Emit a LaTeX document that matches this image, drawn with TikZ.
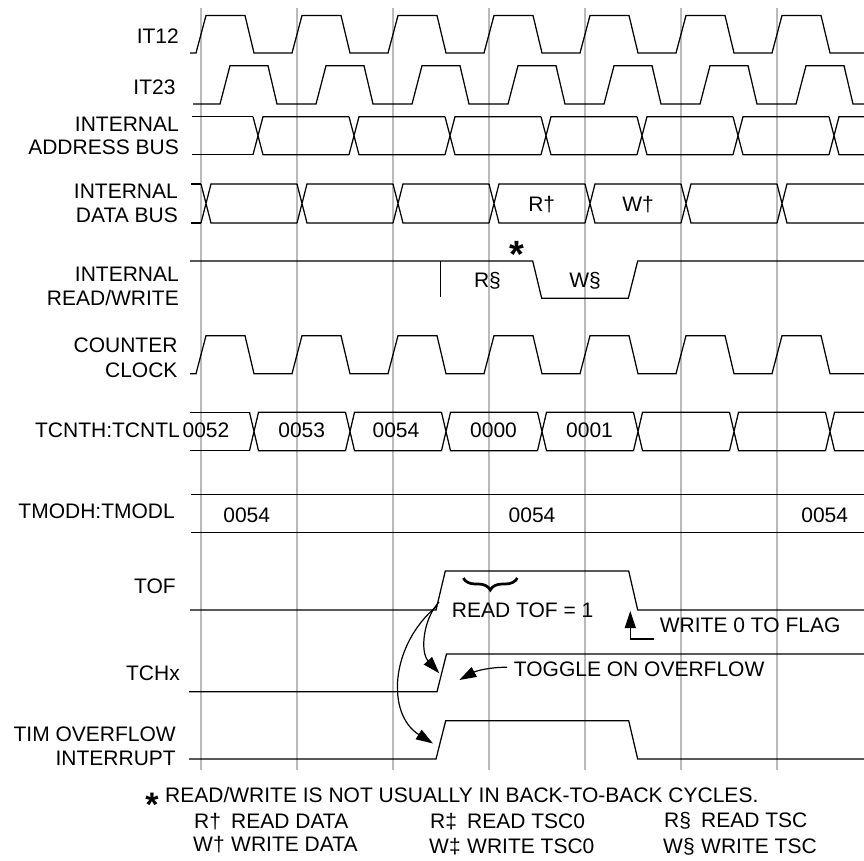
\documentclass[tikz,border=0pt]{standalone}
\usepackage{fontspec}
\setmainfont{Liberation Sans}
\usetikzlibrary{arrows.meta,decorations.pathreplacing}
% clock: #1 low y, #2 high y, #3 start x, #4 first rise start x, #5 fall start offset, #6 fall end offset, #7 end x
\newcommand{\tclk}[7]{%
  \draw[sig] (#3,#1) \foreach \k in {0,...,6}{ -- ({#4+96*\k},#1) -- ({#4+10+96*\k},#2) -- ({#4+#5+96*\k},#2) -- ({#4+#6+96*\k},#1)} -- (#7,#1);
}
% bus: #1 top y, #2 bottom y, #3 start x, #4 first crossing centre, #5 last index, #6 half width, #7 end x
\newcommand{\tbus}[7]{%
  \draw[sig] (#3,#1) -- ({#4-#6},#1) (#3,#2) -- ({#4-#6},#2);
  \foreach \k in {0,...,#5}{
    \pgfmathsetmacro\cc{#4+96*\k}
    \pgfmathsetmacro\ce{min(\cc+96-#6,#7)}
    \draw[sig] ({\cc-#6},#1) -- ({\cc+#6},#2) -- (\ce,#2) ({\cc-#6},#2) -- ({\cc+#6},#1) -- (\ce,#1);
  }
}
\begin{document}
\begin{tikzpicture}[x=1pt,y=-1pt,
  sig/.style={line width=1.25pt, line join=miter},
  gridline/.style={line width=1.6pt, draw=black!27},
  lbl/.style={inner sep=0pt, text height=15pt, text depth=0pt, font=\fontsize{21}{25}\selectfont},
  star/.style={inner sep=0pt, font=\fontsize{38}{38}\selectfont\bfseries},
  arr/.style={line width=1.2pt, -{Triangle[length=17pt,width=11pt]}},
]
\useasboundingbox (0,0) rectangle (864,861);
% grid
\foreach \k in {0,...,6}{ \draw[gridline] ({201+96*\k},8) -- ({201+96*\k},770); }

% left labels
\node[lbl, anchor=east] (lit12) at (179,36) {IT12};
\node[lbl, anchor=east] (lit23) at (175.7,86.6) {IT23};
\node[lbl, anchor=east] (lab1) at (179,124.2) {INTERNAL};
\node[lbl, anchor=east] (lab2) at (179,146.8) {ADDRESS BUS};
\node[lbl, anchor=east] (ldb1) at (178,191.5) {INTERNAL};
\node[lbl, anchor=east] (ldb2) at (178,215) {DATA BUS};
\node[lbl, anchor=east] (lrw1) at (179,274.2) {INTERNAL};
\node[lbl, anchor=east] (lrw2) at (179,297.5) {READ/WRITE};
\node[lbl, anchor=east] (lcc1) at (177.7,345.2) {COUNTER};
\node[lbl, anchor=east] (lcc2) at (177.7,369.5) {CLOCK};
\node[lbl, anchor=east] (ltcnt) at (180,429.5) {TCNTH:TCNTL};
\node[lbl, anchor=east] (ltmod) at (175,510.8) {TMODH:TMODL};
\node[lbl, anchor=east] (ltof) at (176,585.8) {TOF};
\node[lbl, anchor=east] (ltch) at (180,673.3) {TCHx};
\node[lbl, anchor=east] (ltim1) at (176,734.2) {TIM OVERFLOW};
\node[lbl, anchor=east] (ltim2) at (176,757.5) {INTERRUPT};

% IT12, IT23
\tclk{53}{15.5}{190}{196}{49}{58}{864}
\tclk{104}{65.7}{193}{220}{48}{57}{864}
% address bus, data bus
\tbus{116.7}{154.7}{192}{258}{6}{5}{864}
\tbus{184}{223}{191}{206}{6}{5}{864}
\node[lbl] (rdag) at (541.7,204) {R†};
\node[lbl] (wdag) at (638,204) {W†};
% internal read/write
\draw[sig] (190,261) -- (532.7,261) -- (541.7,298.3) -- (628.3,298.3) -- (637.7,261) -- (864,261);
\draw[sig] (440.7,261) -- (440.7,296.7);
\node[lbl] (rsec) at (487.5,280) {R§};
\node[lbl] (wsec) at (585,280) {W§};
\node[star, anchor=base] (ast) at (517,267.5) {*};
% counter clock
\tclk{373.7}{335.7}{190}{196}{49}{58}{864}
% TCNT
\tbus{412.3}{450.7}{190}{254}{6}{4.5}{864}
\node[lbl] (c52) at (206,429.5) {0052};
\node[lbl] (c53) at (301.7,429.5) {0053};
\node[lbl] (c54) at (396,429.5) {0054};
\node[lbl] (c00) at (493.5,429.5) {0000};
\node[lbl] (c01) at (589.5,429.5) {0001};
% TMOD
\draw[sig] (190.7,494.3) -- (864,494.3) (190.7,532.7) -- (864,532.7);
\node[lbl] (m1) at (246.7,515.3) {0054};
\node[lbl] (m2) at (532,515.3) {0054};
\node[lbl] (m3) at (824.7,515.3) {0054};
% TOF
\draw[sig] (190,610) -- (436,610) -- (445.3,571) -- (628.7,571) -- (637.7,610) -- (864,610);
\draw[line width=2.7pt, decorate, decoration={brace, amplitude=12pt}] (517.3,578) -- (463.3,578);
\node[lbl, anchor=west] (rtof) at (451.7,610) {READ TOF = 1};
\node[lbl, anchor=west] (wflag) at (659.7,625) {WRITE 0 TO FLAG};
\coordinate (wf1) at (653.7,639);
\coordinate (wf2) at (630.3,639);
\coordinate (wf3) at (630.3,611);
\draw[arr, line join=miter] (wf1) -- (wf2) -- (wf3);
% TCHx
\draw[sig] (189,691.7) -- (437,691.7) -- (446.5,654) -- (864,654);
\node[lbl, anchor=west] (tog) at (513.7,669.3) {TOGGLE ON OVERFLOW};
\coordinate (tg1) at (507,667.3);
\coordinate (tg2) at (459.3,680);
\draw[arr] (tg1) .. controls (490,667) and (476,671) .. (tg2);
% TIM overflow interrupt
\draw[sig] (189,759) -- (436,759) -- (445.7,720.7) -- (628.7,720.7) -- (637.7,759) -- (864,759);
% causal arrows
\coordinate (s1) at (439,602);
\coordinate (e1) at (439.3,673.3);
\coordinate (s2) at (437,606);
\coordinate (e2) at (433,743.5);
\draw[arr] (s1) .. controls (423,619) and (420,652) .. (e1);
\draw[arr] (s2) .. controls (390,645) and (386,714) .. (e2);

% footnotes
\node[star, anchor=base, font=\fontsize{34}{34}\selectfont\bfseries] (fast) at (152,816) {*};
\node[lbl, anchor=west] (f0) at (165,795) {READ/WRITE IS NOT USUALLY IN BACK-TO-BACK CYCLES.};
\node[lbl, anchor=west] (f1a) at (194,821) {R†};
\node[lbl, anchor=west] (f1b) at (231,821) {READ DATA};
\node[lbl, anchor=west] (f2a) at (193,844) {W†};
\node[lbl, anchor=west] (f2b) at (231,844) {WRITE DATA};
\node[lbl, anchor=west] (f3a) at (430,821) {R‡};
\node[lbl, anchor=west] (f3b) at (467,821) {READ TSC0};
\node[lbl, anchor=west] (f4a) at (429,846) {W‡};
\node[lbl, anchor=west] (f4b) at (467,846) {WRITE TSC0};
\node[lbl, anchor=west] (f5a) at (664,820) {R§};
\node[lbl, anchor=west] (f5b) at (701,820) {READ TSC};
\node[lbl, anchor=west] (f6a) at (663,846) {W§};
\node[lbl, anchor=west] (f6b) at (701,846) {WRITE TSC};
\end{tikzpicture}
\end{document}
